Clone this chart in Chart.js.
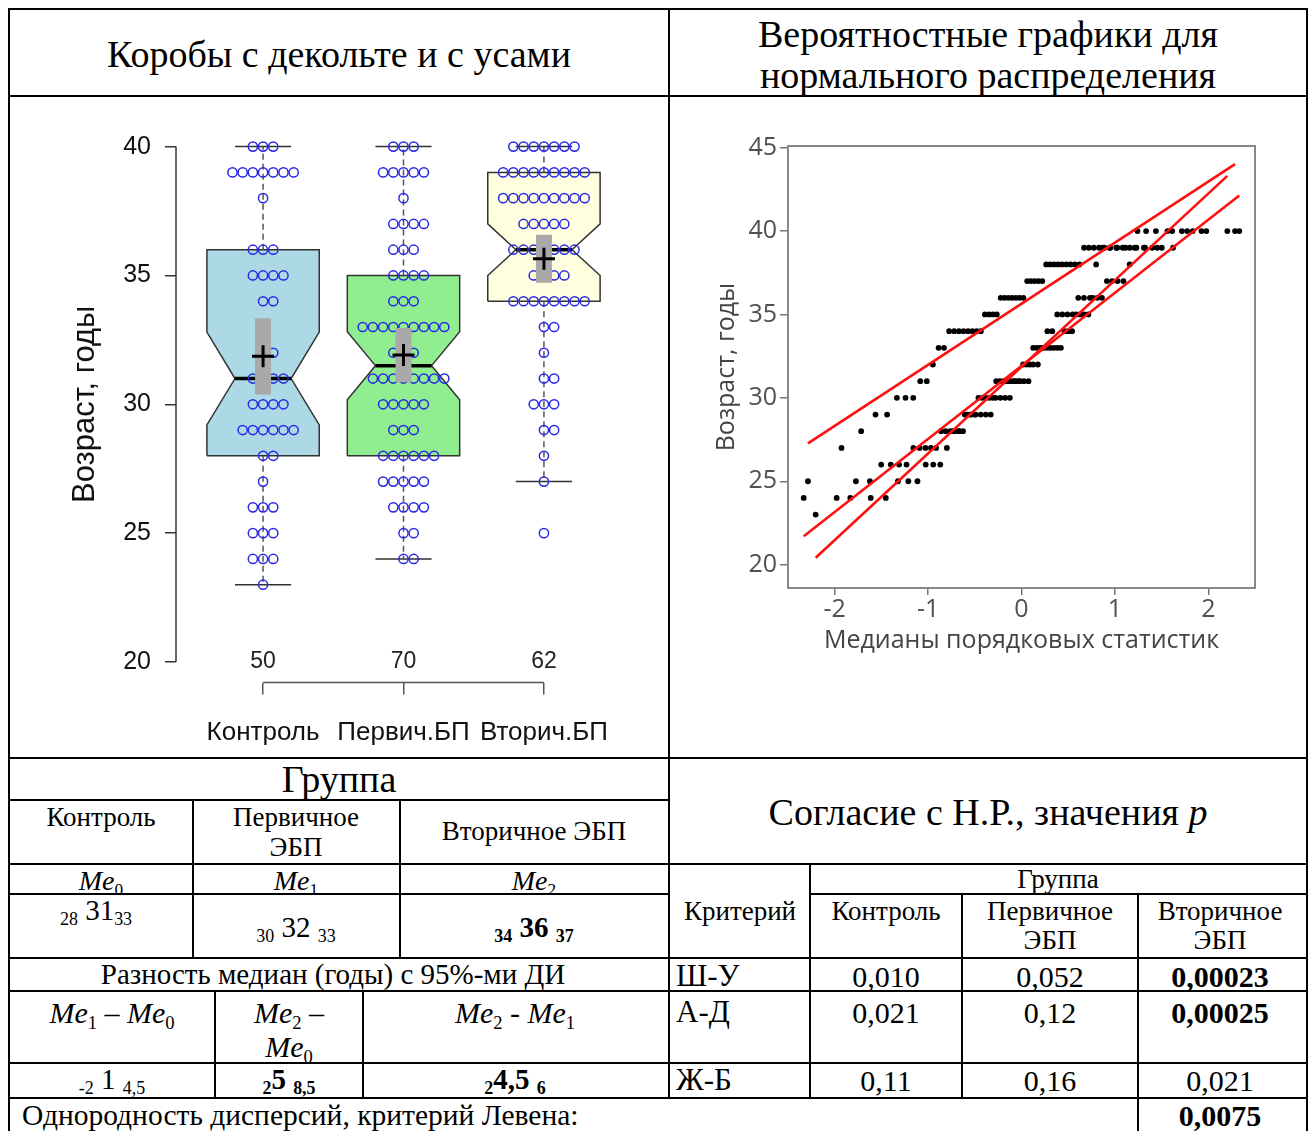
<!DOCTYPE html>
<html lang="ru">
<head>
<meta charset="utf-8">
<title>Коробы с декольте и с усами</title>
<script src="https://cdn.jsdelivr.net/npm/chart.js@4.4.1/dist/chart.umd.min.js"></script>
<style>
  html, body { margin: 0; padding: 0; background: #fff; }
  #page { position: relative; width: 1314px; height: 1131px; overflow: hidden;
          font-family: "Liberation Serif", "Times New Roman", serif; color: #000; }
  .ln { position: absolute; background: #000; }
  .tx { position: absolute; text-align: center; white-space: nowrap; }
  canvas { position: absolute; }
  sub { font-size: 0.62em; vertical-align: -0.3em; line-height: 0; }
</style>
</head>
<body>
<div id="page">
  <canvas id="boxChart" width="658" height="660" style="left:10px; top:97px"></canvas>
  <canvas id="qqChart" width="636" height="660" style="left:670px; top:97px"></canvas>
</div>
<script>
// ages (years) and how many patients of each age, per group
const ageLevels = [23, 24, 25, 26, 27, 28, 29, 30, 31, 32, 33, 34, 35, 36, 37, 38, 39, 40];
const controlCounts   = [1, 3, 3, 3, 1, 2, 6, 4, 4, 2, 1, 2, 4, 3, 0, 1, 7, 3];
const primaryCounts   = [0, 2, 2, 4, 5, 6, 3, 5, 8, 3, 9, 3, 4, 3, 4, 1, 5, 3];
const secondaryCounts = [0, 0, 1, 0, 1, 1, 2, 3, 2, 1, 2, 8, 4, 7, 5, 9, 9, 7];

const groupNames = ['Контроль', 'Первич.БП', 'Вторич.БП'];
const groupSizes = [50, 70, 62];

// box statistics
const whiskerLow  = [23, 24, 27];
const hingeLow    = [28, 28, 34];
const medians     = [31, 31.5, 36];
const hingeHigh   = [36, 35, 39];
const whiskerHigh = [40, 40, 40];
const notchLow    = [29.2, 30.18, 35.0];
const notchHigh   = [32.8, 32.82, 37.0];
// 95% interval of the mean (grey bar)
const meanCiLow  = [30.38, 30.86, 34.72];
const meanCiHigh = [33.34, 32.96, 36.58];

const yTicks = [20, 25, 30, 35, 40];
const qqXTicks = [-2, -1, 0, 1, 2];
const qqYTicks = [20, 25, 30, 35, 40, 45];

const boxColors = ['#add8e6', '#90ee90', '#ffffe0'];
const allCounts = [controlCounts, primaryCounts, secondaryCounts];

// ---------- helpers ----------
function expand(counts) {
  const out = [];
  counts.forEach((n, k) => { for (let j = 0; j < n; j++) out.push(ageLevels[k]); });
  return out;
}
function mean(a) { return a.reduce((s, v) => s + v, 0) / a.length; }
function sd(a) {
  const m = mean(a);
  return Math.sqrt(a.reduce((s, v) => s + (v - m) * (v - m), 0) / (a.length - 1));
}
// inverse normal cdf (Acklam)
function normInv(p) {
  const a = [-3.969683028665376e+01, 2.209460984245205e+02, -2.759285104469687e+02, 1.383577518672690e+02, -3.066479806614716e+01, 2.506628277459239e+00];
  const b = [-5.447609879822406e+01, 1.615858368580409e+02, -1.556989798598866e+02, 6.680131188771972e+01, -1.328068155288572e+01];
  const c = [-7.784894002430293e-03, -3.223964580411365e-01, -2.400758277161838e+00, -2.549732539343734e+00, 4.374664141464968e+00, 2.938163982698783e+00];
  const d = [7.784695709041462e-03, 3.224671290700398e-01, 2.445134137142996e+00, 3.754408661907416e+00];
  const pl = 0.02425;
  if (p < pl) {
    const q = Math.sqrt(-2 * Math.log(p));
    return (((((c[0]*q+c[1])*q+c[2])*q+c[3])*q+c[4])*q+c[5]) / ((((d[0]*q+d[1])*q+d[2])*q+d[3])*q+1);
  }
  if (p > 1 - pl) {
    const q = Math.sqrt(-2 * Math.log(1 - p));
    return -(((((c[0]*q+c[1])*q+c[2])*q+c[3])*q+c[4])*q+c[5]) / ((((d[0]*q+d[1])*q+d[2])*q+d[3])*q+1);
  }
  const q = p - 0.5, r = q * q;
  return (((((a[0]*r+a[1])*r+a[2])*r+a[3])*r+a[4])*r+a[5])*q / (((((b[0]*r+b[1])*r+b[2])*r+b[3])*r+b[4])*r+1);
}
// Filliben order statistic medians
function orderStatMedians(n) {
  const z = [];
  for (let i = 1; i <= n; i++) {
    let p = (i - 0.3175) / (n + 0.365);
    if (i === n) p = Math.pow(0.5, 1 / n);
    if (i === 1) p = 1 - Math.pow(0.5, 1 / n);
    z.push(normInv(p));
  }
  return z;
}

const groupAges = allCounts.map(expand);
const groupMeans = groupAges.map(mean);
const groupSds = groupAges.map(sd);

// ---------- left chart: notched boxes with stacked points ----------
const stripStep = 0.0726;   // distance between stacked circles, x units
const boxHalf = 0.4;
const GAP = {x: 0, y: null};

function stripPoints() {
  const pts = [];
  allCounts.forEach((counts, g) => {
    counts.forEach((n, k) => {
      for (let j = 0; j < n; j++) {
        pts.push({x: g + 1 + (j - Math.floor((n - 1) / 2)) * stripStep, y: ageLevels[k]});
      }
    });
  });
  return pts;
}
function notchedBox(i) {
  const x = i + 1, w = boxHalf;
  return [[-1, hingeLow], [1, hingeLow], [1, notchLow], [0.5, medians], [1, notchHigh], [1, hingeHigh],
          [-1, hingeHigh], [-1, notchHigh], [-0.5, medians], [-1, notchLow], [-1, hingeLow]]
    .map(([k, arr]) => ({x: x + k * w, y: arr[i]}));
}
function segs(fn) {
  const out = [];
  groupNames.forEach((_, i) => fn(i, i + 1).forEach(s => { out.push(s[0], s[1], GAP); }));
  return out;
}

const lineBase = {type: 'line', pointRadius: 0, pointHoverRadius: 0, fill: false, tension: 0, spanGaps: false};

const boxDatasets = groupNames.map((name, i) => ({
  ...lineBase, label: name, data: notchedBox(i), fill: 'shape',
  backgroundColor: boxColors[i], borderColor: '#333', borderWidth: 1.5, order: 6
}));

const rAxis = {
  id: 'rAxis',
  afterDraw(chart) {
    const {ctx, chartArea, scales: {x, y}} = chart;
    ctx.save();
    ctx.lineWidth = 1.5;
    ctx.strokeStyle = '#333';
    ctx.beginPath();
    ctx.moveTo(chartArea.left, y.getPixelForValue(yTicks[0]));
    ctx.lineTo(chartArea.left, y.getPixelForValue(yTicks[yTicks.length - 1]));
    ctx.stroke();
    ctx.strokeStyle = '#555';
    ctx.beginPath();
    ctx.moveTo(x.getPixelForValue(1), chartArea.bottom);
    ctx.lineTo(x.getPixelForValue(groupNames.length), chartArea.bottom);
    ctx.stroke();
    ctx.fillStyle = '#222';
    ctx.font = '23px "Liberation Sans"';
    ctx.textAlign = 'center';
    ctx.textBaseline = 'middle';
    groupSizes.forEach((n, i) => ctx.fillText(String(n), x.getPixelForValue(i + 1), y.getPixelForValue(yTicks[0])));
    ctx.restore();
  }
};

new Chart(document.getElementById('boxChart'), {
  type: 'line',
  data: {
    datasets: [
      {...lineBase, label: 'mean', showLine: false, data: groupMeans.map((m, i) => ({x: i + 1, y: m})),
        pointStyle: 'cross', pointRadius: 11, pointBorderWidth: 3, pointBorderColor: '#000', order: 0},
      {...lineBase, label: 'ci', data: segs(i => [[{x: i + 1, y: meanCiLow[i]}, {x: i + 1, y: meanCiHigh[i]}]]),
        borderColor: '#a9a9a9', borderWidth: 16, borderCapStyle: 'butt', order: 1},
      {...lineBase, label: 'points', showLine: false, data: stripPoints(),
        pointRadius: 4.6, pointBorderWidth: 1.5, pointBorderColor: '#2828e6', pointBackgroundColor: 'rgba(0,0,0,0)', order: 2},
      {...lineBase, label: 'median', data: segs(i => [[{x: i + 1 - boxHalf / 2, y: medians[i]}, {x: i + 1 + boxHalf / 2, y: medians[i]}]]),
        borderColor: '#000', borderWidth: 3.5, borderCapStyle: 'butt', order: 3},
      {...lineBase, label: 'staples', data: segs(i => [
          [{x: i + 1 - boxHalf / 2, y: whiskerHigh[i]}, {x: i + 1 + boxHalf / 2, y: whiskerHigh[i]}],
          [{x: i + 1 - boxHalf / 2, y: whiskerLow[i]}, {x: i + 1 + boxHalf / 2, y: whiskerLow[i]}]]),
        borderColor: '#333', borderWidth: 1.5, order: 4},
      {...lineBase, label: 'whiskers', data: segs(i => [
          [{x: i + 1, y: hingeHigh[i]}, {x: i + 1, y: whiskerHigh[i]}],
          [{x: i + 1, y: hingeLow[i]}, {x: i + 1, y: whiskerLow[i]}]]),
        borderColor: '#555', borderWidth: 1.5, borderDash: [6, 4], order: 5},
      ...boxDatasets
    ]
  },
  options: {
    responsive: false, animation: false, devicePixelRatio: 1, events: [],
    layout: {padding: {left: 56.4, right: 37, top: 28.4, bottom: 0}},
    plugins: {legend: {display: false}, tooltip: {enabled: false}},
    scales: {
      x: {
        type: 'linear', min: 0.38, max: 3.62,
        afterBuildTicks: s => { s.ticks = groupNames.map((_, i) => ({value: i + 1})); },
        afterFit: s => { s.height = 74.4; },
        ticks: {callback: v => groupNames[v - 1], font: {family: 'Liberation Sans', size: 26}, color: '#111',
                padding: 23, maxRotation: 0, autoSkip: false},
        grid: {drawOnChartArea: false, drawTicks: true, tickLength: 12, color: '#555', lineWidth: 1.5},
        border: {display: false}
      },
      y: {
        min: 19.2, max: 40.8,
        afterBuildTicks: s => { s.ticks = yTicks.map(v => ({value: v})); },
        afterFit: s => { s.width = 109.6; },
        ticks: {font: {family: 'Liberation Sans', size: 25}, color: '#111', padding: 14},
        grid: {drawOnChartArea: false, drawTicks: true, tickLength: 11, color: '#333', lineWidth: 1.5},
        border: {display: false},
        title: {display: true, text: 'Возраст, годы', font: {family: 'Liberation Sans', size: 31}, color: '#111',
                padding: {top: 0, bottom: 0}}
      }
    }
  },
  plugins: [rAxis]
});

// ---------- right chart: normal probability plot ----------
const qqLineColor = '#ff1010';
const qqPoints = [];
const qqLines = [];
groupAges.forEach((a, g) => {
  const z = orderStatMedians(a.length);
  a.forEach((v, i) => qqPoints.push({x: z[i], y: v}));
  const z0 = z[0], z1 = z[z.length - 1];
  qqLines.push({
    type: 'scatter', showLine: true, label: groupNames[g],
    data: [{x: z0, y: groupMeans[g] + groupSds[g] * z0}, {x: z1, y: groupMeans[g] + groupSds[g] * z1}],
    borderColor: qqLineColor, borderWidth: 2.6, pointRadius: 0, order: 0
  });
});

const frame = {
  id: 'frame',
  beforeDatasetsDraw(chart) {
    const {ctx, chartArea: a} = chart;
    ctx.save();
    ctx.strokeStyle = '#888';
    ctx.lineWidth = 2;
    ctx.strokeRect(a.left, a.top, a.right - a.left, a.bottom - a.top);
    ctx.restore();
  }
};

const qqFont = {family: 'Open Sans', size: 25};
new Chart(document.getElementById('qqChart'), {
  type: 'scatter',
  data: {
    datasets: [
      ...qqLines,
      {label: 'Возраст', data: qqPoints, pointRadius: 2.9, backgroundColor: '#000', borderWidth: 0, order: 1}
    ]
  },
  options: {
    responsive: false, animation: false, devicePixelRatio: 1, events: [],
    layout: {padding: {left: 42, right: 51, top: 49, bottom: 89}},
    plugins: {legend: {display: false}, tooltip: {enabled: false}},
    scales: {
      x: {
        type: 'linear', min: -2.5, max: 2.5,
        afterBuildTicks: s => { s.ticks = qqXTicks.map(v => ({value: v})); },
        afterFit: s => { s.height = 80; },
        ticks: {font: qqFont, color: '#505050', padding: 0},
        grid: {drawOnChartArea: false, drawTicks: true, tickLength: 7, color: '#777', lineWidth: 1.5},
        border: {display: false},
        title: {display: true, text: 'Медианы порядковых статистик', font: qqFont, color: '#444',
                padding: {top: 0, bottom: 12}}
      },
      y: {
        min: 18.6, max: 45.1,
        afterBuildTicks: s => { s.ticks = qqYTicks.map(v => ({value: v})); },
        afterFit: s => { s.width = 76; },
        ticks: {font: qqFont, color: '#505050', padding: 3},
        grid: {drawOnChartArea: false, drawTicks: true, tickLength: 8, color: '#777', lineWidth: 1.5},
        border: {display: false},
        title: {display: true, text: 'Возраст, годы', font: qqFont, color: '#444', padding: {top: 0, bottom: 0}}
      }
    }
  },
  plugins: [frame]
});

// ---------- table around the charts ----------
const page = document.getElementById('page');
function rule(x1, y1, x2, y2) {
  const d = document.createElement('div');
  d.className = 'ln';
  if (y1 === y2) {
    Object.assign(d.style, {left: x1 - 1 + 'px', top: y1 - 1 + 'px', width: x2 - x1 + 2 + 'px', height: '2px'});
  } else {
    Object.assign(d.style, {left: x1 - 1 + 'px', top: y1 - 1 + 'px', width: '2px', height: y2 - y1 + 2 + 'px'});
  }
  page.appendChild(d);
}
function put(html, cx, cy, size, align) {
  const d = document.createElement('div');
  d.className = 'tx';
  d.innerHTML = html;
  d.style.fontSize = size + 'px';
  d.style.lineHeight = Math.round(size * 1.15) + 'px';
  d.style.top = (cy - size * 0.575) + 'px';
  if (align === 'left') {
    d.style.left = cx + 'px';
    d.style.textAlign = 'left';
  } else {
    d.style.left = (cx - 400) + 'px';
    d.style.width = '800px';
  }
  page.appendChild(d);
}

// frame lines
[[9, 9, 1307, 9], [9, 9, 9, 1131], [1307, 9, 1307, 1131], [9, 96, 1307, 96], [669, 9, 669, 1098],
 [9, 758, 1307, 758], [9, 800, 669, 800], [9, 864, 1307, 864], [9, 894, 669, 894], [810, 894, 1307, 894],
 [193, 800, 193, 958], [400, 800, 400, 958], [9, 958, 1307, 958], [9, 991, 1307, 991],
 [215, 991, 215, 1098], [363, 991, 363, 1098], [9, 1063, 1307, 1063], [9, 1098, 1307, 1098],
 [810, 864, 810, 1098], [962, 894, 962, 1098], [1138, 894, 1138, 1131]].forEach(r => rule(...r));

const me = k => '<i>Me</i><sub>' + k + '</sub>';

put('Коробы с декольте и с усами', 339, 54, 38);
put('Вероятностные графики для', 988, 34, 38);
put('нормального распределения', 988, 75, 38);

put('Группа', 339, 779, 38);
put('Контроль', 101, 818, 27);
put('Первичное', 296, 818, 27);
put('ЭБП', 296, 848, 27);
put('Вторичное ЭБП', 534, 832, 27);
put(me(0), 101, 881, 28);
put(me(1), 296, 881, 28);
put(me(2), 534, 881, 28);
put('<sub>28</sub> 31<sub>33</sub>', 96, 911, 29);
put('<sub>30</sub> 32 <sub>33</sub>', 296, 928, 29);
put('<b><sub>34</sub> 36 <sub>37</sub></b>', 534, 928, 29);
put('Разность медиан (годы) с 95%-ми ДИ', 333, 975, 29);
put(me(1) + ' – ' + me(0), 112, 1012, 30);
put(me(2) + ' –', 289, 1012, 30);
put(me(0), 289, 1046, 30);
put(me(2) + ' - ' + me(1), 515, 1012, 30);
put('<sub>-2</sub> 1 <sub>4,5</sub>', 112, 1080, 29);
put('<b><sub>2</sub>5 <sub>8,5</sub></b>', 289, 1080, 29);
put('<b><sub>2</sub>4,5 <sub>6</sub></b>', 515, 1080, 29);
put('Однородность дисперсий, критерий Левена:', 22, 1115, 29.5, 'left');

// normality tests, p values
const criteria = ['Ш-У', 'А-Д', 'Ж-Б'];
const pControl = ['0,010', '0,021', '0,11'];
const pPrimary = ['0,052', '0,12', '0,16'];
const pSecondary = ['<b>0,00023</b>', '<b>0,00025</b>', '0,021'];
const pLevene = '<b>0,0075</b>';
const rowY = [976, 1012, 1080];

put('Согласие с Н.Р., значения <i>p</i>', 988, 812, 38);
put('Группа', 1058, 880, 27);
put('Критерий', 740, 912, 27);
put('Контроль', 886, 912, 27);
put('Первичное', 1050, 912, 27);
put('ЭБП', 1050, 941, 27);
put('Вторичное', 1220, 912, 27);
put('ЭБП', 1220, 941, 27);
criteria.forEach((c, i) => {
  put(c, 676, rowY[i], 31, 'left');
  put(pControl[i], 886, rowY[i], 30);
  put(pPrimary[i], 1050, rowY[i], 30);
  put(pSecondary[i], 1220, rowY[i], 30);
});
put(pLevene, 1220, 1115, 30);
</script>
</body>
</html>
